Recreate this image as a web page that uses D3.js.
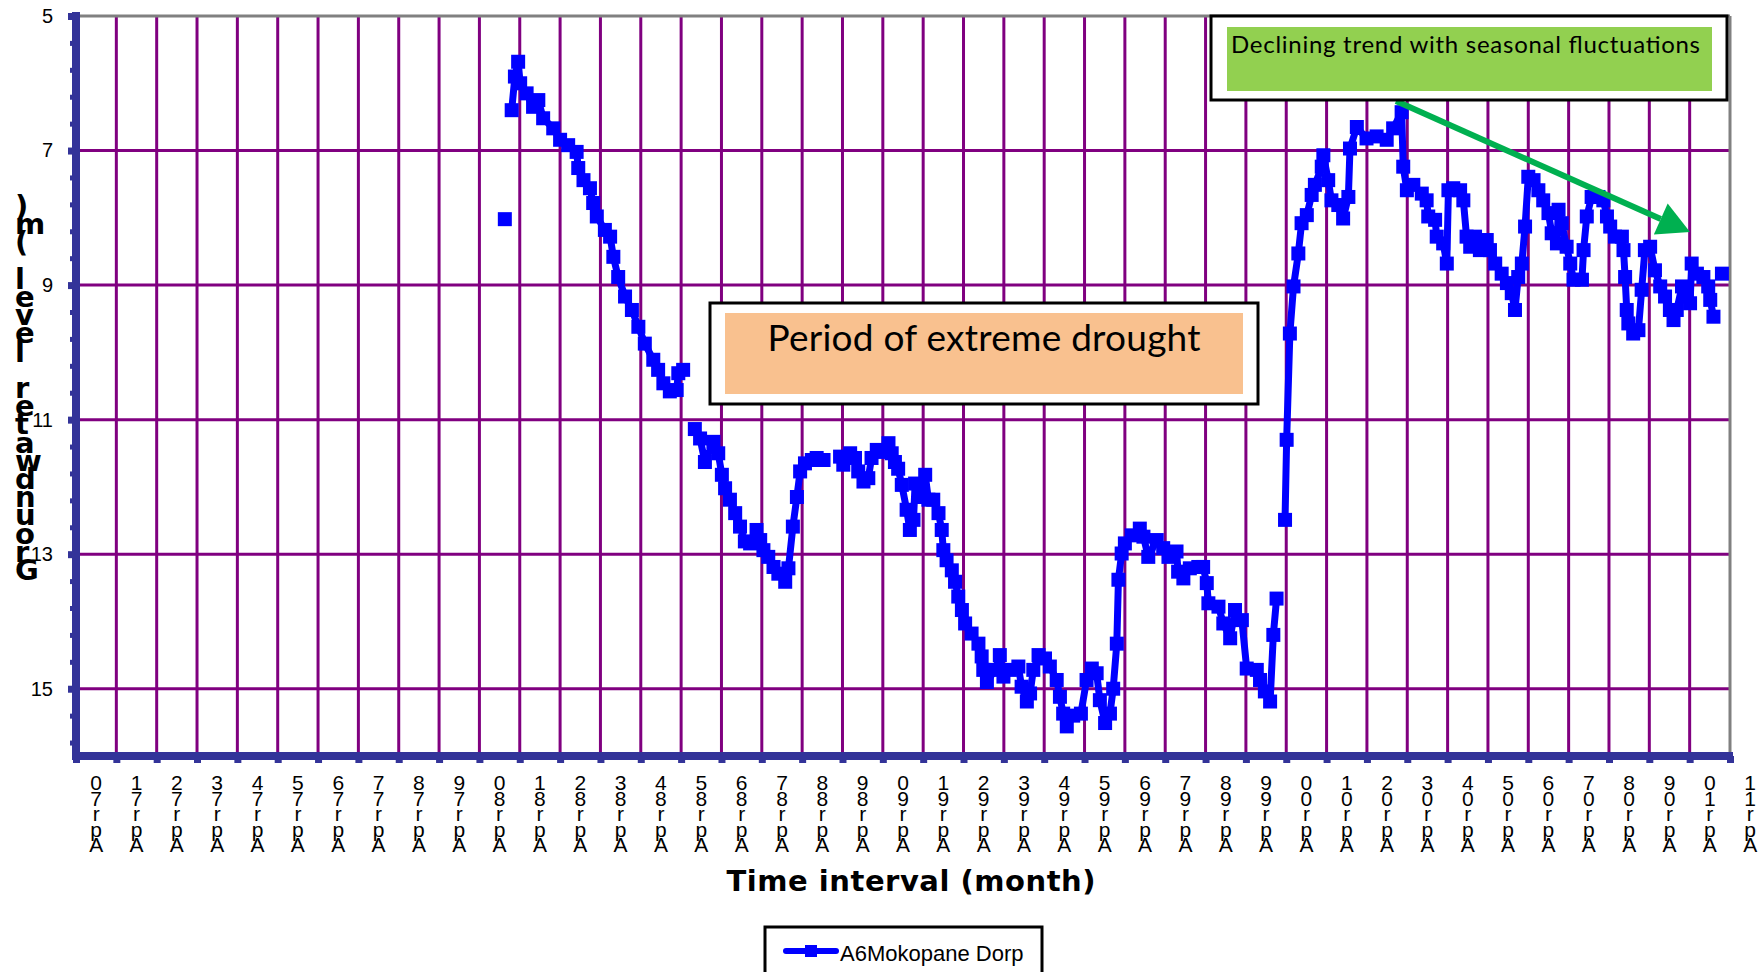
<!DOCTYPE html>
<html lang="en">
<head>
<meta charset="utf-8">
<title>Groundwater level - A6Mokopane Dorp</title>
<script src="https://d3js.org/d3.v7.min.js"></script>
<style>
  body { margin: 0; background: #fff; }
</style>
</head>
<body>
<div id="chart"></div>
<script>

// tick labels (one per April, 1970 .. 2011)
var monthLabels = ["Apr70", "Apr71", "Apr72", "Apr73", "Apr74", "Apr75", "Apr76", "Apr77", "Apr78", "Apr79",
    "Apr80", "Apr81", "Apr82", "Apr83", "Apr84", "Apr85", "Apr86", "Apr87", "Apr88", "Apr89",
    "Apr90", "Apr91", "Apr92", "Apr93", "Apr94", "Apr95", "Apr96", "Apr97", "Apr98", "Apr99",
    "Apr00", "Apr01", "Apr02", "Apr03", "Apr04", "Apr05", "Apr06", "Apr07", "Apr08", "Apr09",
    "Apr10", "Apr11"];
var labelYears = [1970, 1971, 1972, 1973, 1974, 1975, 1976, 1977, 1978, 1979,
    1980, 1981, 1982, 1983, 1984, 1985, 1986, 1987, 1988, 1989,
    1990, 1991, 1992, 1993, 1994, 1995, 1996, 1997, 1998, 1999,
    2000, 2001, 2002, 2003, 2004, 2005, 2006, 2007, 2008, 2009,
    2010, 2011];
var yTicks = [5, 7, 9, 11, 13, 15];

// measurement dates (decimal years) and groundwater level (m); null = no record
var dates = [
    1980.88, null,
    1981.05, 1981.13, 1981.21, 1981.26, 1981.42, 1981.58, 1981.71, 1981.83, 1982.08, 1982.25,
    1982.45, 1982.66, 1982.70, 1982.83, 1982.99, 1983.07, 1983.16, 1983.36, 1983.49, 1983.57,
    1983.69, 1983.86, 1984.03, 1984.19, 1984.35, 1984.56, 1984.68, 1984.81, 1984.97, 1985.14,
    1985.18, 1985.30, null,
    1985.59, 1985.72, 1985.84, 1986.05, 1986.17, 1986.26, 1986.34, 1986.46, 1986.59, 1986.71,
    1986.83, 1986.96, 1987.12, 1987.21, 1987.29, 1987.41, 1987.54, 1987.66, 1987.83, 1987.91,
    1988.02, 1988.12, 1988.20, 1988.32, 1988.49, 1988.61, 1988.78, null,
    1989.19, 1989.27, 1989.44, 1989.56, 1989.64, 1989.77, 1989.89, 1989.97, 1990.10, 1990.26,
    1990.39, 1990.47, 1990.55, 1990.63, 1990.72, 1990.84, 1990.92, 1991.01, 1991.05, 1991.17,
    1991.30, 1991.38, 1991.50, 1991.63, 1991.71, 1991.75, 1991.83, 1991.96, 1992.04, 1992.12,
    1992.21, 1992.29, 1992.45, 1992.62, 1992.70, 1992.74, 1992.83, 1993.03, 1993.15, 1993.24,
    1993.40, 1993.61, 1993.69, 1993.82, 1993.90, 1993.98, 1994.11, 1994.27, 1994.39, 1994.56,
    1994.64, 1994.72, 1994.81, 1994.97, 1995.16, 1995.30, 1995.43, 1995.55, 1995.63, 1995.76,
    1995.88, 1995.96, 1996.05, 1996.09, 1996.17, 1996.25, 1996.42, 1996.62, 1996.71, 1996.83,
    1997.04, 1997.20, 1997.33, 1997.53, 1997.57, 1997.70, 1997.86, 1998.07, 1998.19, 1998.28,
    1998.32, 1998.57, 1998.69, 1998.86, 1998.98, 1999.15, 1999.27, 1999.52, 1999.60, 1999.72,
    1999.85, 1999.93, 2000.01, null,
    2000.22, 2000.26, 2000.34, 2000.43, 2000.55, 2000.63, 2000.76, 2000.88, 2000.96, 2001.13,
    2001.17, 2001.29, 2001.37, 2001.54, 2001.66, 2001.79, 2001.83, 2002.00, 2002.24, 2002.49,
    2002.74, 2002.90, 2003.11, 2003.15, 2003.24, 2003.40, 2003.61, 2003.73, 2003.77, 2003.94,
    2003.98, 2004.14, 2004.23, 2004.27, 2004.39, 2004.56, 2004.64, 2004.72, 2004.81, 2004.93,
    2005.05, 2005.22, 2005.30, 2005.43, 2005.59, 2005.72, 2005.84, 2005.92, 2006.00, 2006.09,
    2006.17, 2006.25, 2006.38, 2006.50, 2006.62, 2006.75, 2006.83, 2006.96, 2007.00, 2007.08,
    2007.20, 2007.29, 2007.37, 2007.58, 2007.62, 2007.70, 2007.82, 2007.99, 2008.11, 2008.20,
    2008.28, 2008.40, 2008.57, 2008.61, 2008.65, 2008.69, 2008.73, 2008.85, 2008.98, 2009.06,
    2009.14, 2009.27, 2009.39, 2009.52, 2009.64, 2009.76, 2009.85, 2009.93, 2010.06, 2010.18,
    2010.26, 2010.30, 2010.43, 2010.59, 2010.71, 2010.76, 2010.84, null,
    2011.05
];
var levels = [
    8.02, null,
    6.40, 5.90, 5.68, 6.00, 6.15, 6.35, 6.25, 6.52, 6.67, 6.84,
    6.92, 7.02, 7.26, 7.44, 7.56, 7.78, 7.98, 8.18, 8.28, 8.58,
    8.88, 9.17, 9.37, 9.62, 9.87, 10.11, 10.26, 10.46, 10.58, 10.56,
    10.31, 10.26, null,
    11.14, 11.28, 11.63, 11.33, 11.50, 11.82, 12.02, 12.19, 12.39, 12.59,
    12.81, 12.84, 12.64, 12.79, 12.94, 13.04, 13.19, 13.29, 13.41, 13.21,
    12.59, 12.15, 11.77, 11.65, 11.60, 11.57, 11.60, null,
    11.55, 11.67, 11.50, 11.57, 11.77, 11.92, 11.87, 11.57, 11.45, 11.48,
    11.35, 11.50, 11.63, 11.73, 11.97, 12.34, 12.64, 12.49, 11.95, 12.15,
    11.82, 12.19, 12.19, 12.39, 12.64, 12.94, 13.09, 13.24, 13.41, 13.63,
    13.83, 14.03, 14.18, 14.33, 14.52, 14.72, 14.90, 14.72, 14.50, 14.82,
    14.72, 14.67, 14.97, 15.19, 15.07, 14.72, 14.50, 14.55, 14.67, 14.87,
    15.12, 15.37, 15.56, 15.40, 15.37, 14.87, 14.70, 14.77, 15.17, 15.51,
    15.37, 15.00, 14.33, 13.38, 12.99, 12.84, 12.72, 12.62, 12.74, 13.04,
    12.79, 12.91, 13.04, 12.96, 13.26, 13.36, 13.21, 13.19, 13.19, 13.43,
    13.73, 13.78, 14.03, 14.25, 13.83, 13.98, 14.70, 14.72, 14.87, 15.04,
    15.19, 14.20, 13.66, null,
    12.49, 11.30, 9.72, 9.02, 8.53, 8.08, 7.96, 7.66, 7.51, 7.24,
    7.07, 7.44, 7.74, 7.81, 8.01, 7.69, 6.97, 6.65, 6.82, 6.79,
    6.84, 6.67, 6.43, 7.24, 7.59, 7.51, 7.64, 7.74, 7.98, 8.03,
    8.28, 8.38, 8.68, 7.59, 7.56, 7.59, 7.74, 8.28, 8.43, 8.28,
    8.48, 8.33, 8.48, 8.68, 8.83, 8.97, 9.12, 9.37, 8.88, 8.68,
    8.13, 7.39, 7.44, 7.59, 7.74, 7.93, 8.23, 8.38, 7.88, 8.08,
    8.43, 8.68, 8.92, 8.92, 8.48, 7.98, 7.69, 7.69, 7.74, 7.98,
    8.13, 8.28, 8.28, 8.48, 8.88, 9.37, 9.57, 9.72, 9.67, 9.07,
    8.48, 8.43, 8.78, 9.02, 9.17, 9.37, 9.52, 9.37, 9.02, 9.17,
    9.27, 8.68, 8.83, 8.88, 9.02, 9.22, 9.47, null,
    8.83
];

var seriesName = "A6Mokopane Dorp";
var yTitle = "Groundwater level (m)";
var xTitle = "Time interval (month)";

var svgW = 1758, svgH = 972;
var plotL = 76, plotT = 16, plotR = 1730, plotB = 756;
var width = plotR - plotL, height = plotB - plotT;

var purple = "#800080", axisBlue = "#333399", lineBlue = "#0000ff";

var svg = d3.select("#chart").append("svg")
    .attr("width", svgW)
    .attr("height", svgH)
    .style("display", "block");

svg.append("rect").attr("width", svgW).attr("height", svgH).attr("fill", "#fff");

var g = svg.append("g").attr("transform", "translate(" + plotL + "," + plotT + ")");

var x = d3.scaleLinear().domain([1970.25, 2011.25]).range([0, width]);
var y = d3.scaleLinear().domain([5, 16]).range([0, height]);

var data = dates.map(function (d, i) { return { date: d, level: levels[i] }; });

// vertical grid lines, one per year boundary
var bounds = labelYears.map(function (yr) { return yr + 0.25; });
g.selectAll(".vgrid")
    .data(bounds.slice(1, bounds.length - 1))
    .enter().append("line")
    .attr("x1", function (d) { return x(d); })
    .attr("x2", function (d) { return x(d); })
    .attr("y1", 0).attr("y2", height)
    .attr("stroke", purple).attr("stroke-width", 3);

g.selectAll(".hgrid")
    .data(yTicks.slice(1))
    .enter().append("line")
    .attr("x1", 0).attr("x2", width)
    .attr("y1", function (d) { return y(d); })
    .attr("y2", function (d) { return y(d); })
    .attr("stroke", purple).attr("stroke-width", 3);

// grey plot border on top and right
g.append("line").attr("x1", 0).attr("x2", width).attr("y1", 0).attr("y2", 0)
    .attr("stroke", "#808080").attr("stroke-width", 3);
g.append("line").attr("x1", width).attr("x2", width).attr("y1", 0).attr("y2", height)
    .attr("stroke", "#808080").attr("stroke-width", 3);

// series
var line = d3.line()
    .defined(function (d) { return d.level !== null; })
    .x(function (d) { return x(d.date); })
    .y(function (d) { return y(d.level); });

g.append("path")
    .datum(data)
    .attr("d", line)
    .attr("fill", "none")
    .attr("stroke", lineBlue)
    .attr("stroke-width", 7)
    .attr("stroke-linejoin", "round");

g.selectAll(".pt")
    .data(data.filter(function (d) { return d.level !== null; }))
    .enter().append("rect")
    .attr("x", function (d) { return x(d.date) - 7; })
    .attr("y", function (d) { return y(d.level) - 7; })
    .attr("width", 14).attr("height", 14)
    .attr("fill", lineBlue);

// drought annotation
svg.append("rect").attr("x", 710).attr("y", 303).attr("width", 548).attr("height", 101)
    .attr("fill", "#fff").attr("stroke", "#000").attr("stroke-width", 3);
svg.append("rect").attr("x", 725).attr("y", 313).attr("width", 518).attr("height", 81)
    .attr("fill", "#f9c18f");
svg.append("text").attr("x", 984).attr("y", 351)
    .attr("text-anchor", "middle")
    .style("font-family", "Lato, 'Open Sans', sans-serif")
    .style("font-size", "37px")
    .attr("textLength", 433)
    .text("Period of extreme drought");

// trend arrow
var ax0 = 1396, ay0 = 101, ax1 = 1690, ay1 = 232;
var ang = Math.atan2(ay1 - ay0, ax1 - ax0);
var headL = 32, headW = 17;
var bx = ax1 - headL * Math.cos(ang), by = ay1 - headL * Math.sin(ang);
svg.append("line").attr("x1", ax0).attr("y1", ay0).attr("x2", bx).attr("y2", by)
    .attr("stroke", "#00b050").attr("stroke-width", 6);
svg.append("path")
    .attr("d", "M" + ax1 + "," + ay1 +
        "L" + (bx + headW * Math.sin(ang)) + "," + (by - headW * Math.cos(ang)) +
        "L" + (bx - headW * Math.sin(ang)) + "," + (by + headW * Math.cos(ang)) + "Z")
    .attr("fill", "#00b050");

// trend annotation
svg.append("rect").attr("x", 1211).attr("y", 16).attr("width", 516).attr("height", 84)
    .attr("fill", "#fff").attr("stroke", "#000").attr("stroke-width", 3);
svg.append("rect").attr("x", 1227).attr("y", 27).attr("width", 485).attr("height", 64)
    .attr("fill", "#92d050");
svg.append("text").attr("x", 1231).attr("y", 53)
    .style("font-family", "Lato, 'Open Sans', sans-serif")
    .style("font-size", "24px")
    .attr("textLength", 469)
    .text("Declining trend with seasonal fluctuations");

// left axis: minor ticks, major ticks, labels
var minor = d3.range(0, 28).map(function (i) { return 5 + i * 0.4; });
var yMinor = g.append("g").call(d3.axisLeft(y).tickValues(minor).tickSize(6).tickFormat(""));
yMinor.select(".domain").remove();
yMinor.selectAll("line").attr("stroke", axisBlue).attr("stroke-width", 5);

var yAxis = g.append("g").call(d3.axisLeft(y).tickValues(yTicks).tickSize(8).tickPadding(15));
yAxis.select(".domain").remove();
yAxis.selectAll("line").attr("stroke", axisBlue).attr("stroke-width", 7);
yAxis.selectAll("text")
    .style("font-family", "'Liberation Sans', Arial, sans-serif")
    .style("font-size", "20px")
    .attr("fill", "#000");

// bottom axis ticks
var xAxis = g.append("g")
    .attr("transform", "translate(0," + height + ")")
    .call(d3.axisBottom(x).tickValues(bounds).tickSize(7).tickFormat(""));
xAxis.select(".domain").remove();
xAxis.selectAll("line").attr("stroke", axisBlue).attr("stroke-width", 7);

// axis lines
g.append("line").attr("x1", 0).attr("x2", 0).attr("y1", -4).attr("y2", height + 4)
    .attr("stroke", axisBlue).attr("stroke-width", 8);
g.append("line").attr("x1", -4).attr("x2", width + 3).attr("y1", height).attr("y2", height)
    .attr("stroke", axisBlue).attr("stroke-width", 8);

// x tick labels, characters stacked bottom-to-top
g.selectAll(".xlab")
    .data(monthLabels)
    .enter().append("text")
    .attr("text-anchor", "middle")
    .style("font-family", "'Liberation Sans', Arial, sans-serif")
    .style("font-size", "21px")
    .attr("fill", "#000")
    .each(function (d, i) {
        var t = d3.select(this);
        var cx = x(labelYears[i] + 0.75);
        d.split("").reverse().forEach(function (ch, k) {
            t.append("tspan").attr("x", cx).attr("y", 790 - plotT + k * 15.5).text(ch);
        });
    });

// axis titles
svg.append("text").attr("x", 911).attr("y", 891)
    .attr("text-anchor", "middle")
    .style("font-family", "'DejaVu Sans', Verdana, sans-serif")
    .style("font-weight", "bold")
    .style("font-size", "29px")
    .attr("textLength", 369)
    .text(xTitle);

var yt = svg.append("text")
    .style("font-family", "'DejaVu Sans', Verdana, sans-serif")
    .style("font-weight", "bold")
    .style("font-size", "29px")
    .attr("fill", "#000");
yTitle.split("").reverse().forEach(function (ch, k) {
    yt.append("tspan").attr("x", 15).attr("y", 216 + k * 18.2).text(ch);
});

// legend
svg.append("rect").attr("x", 765).attr("y", 927).attr("width", 277).attr("height", 60)
    .attr("fill", "#fff").attr("stroke", "#000").attr("stroke-width", 3);
svg.append("line").attr("x1", 786).attr("x2", 836).attr("y1", 951).attr("y2", 951)
    .attr("stroke", lineBlue).attr("stroke-width", 6).attr("stroke-linecap", "round");
svg.append("rect").attr("x", 805).attr("y", 945).attr("width", 12).attr("height", 12)
    .attr("fill", lineBlue);
svg.append("text").attr("x", 840).attr("y", 961)
    .style("font-family", "'Liberation Sans', Arial, sans-serif")
    .style("font-size", "22px")
    .text(seriesName);

</script>
</body>
</html>
